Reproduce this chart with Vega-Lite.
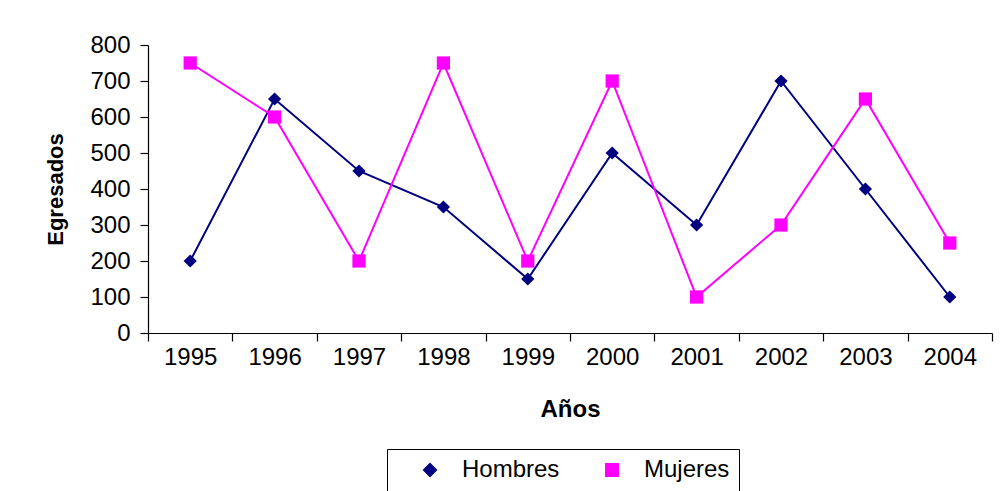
{
  "$schema": "https://vega.github.io/schema/vega-lite/v6.json",
  "autosize": "none",
  "width": 844,
  "height": 288,
  "padding": {"left": 148, "top": 45, "right": 8, "bottom": 158},
  "background": "white",
  "config": {
    "font": "Liberation Sans",
    "view": {"stroke": null},
    "axis": {"grid": false, "domainColor": "#000000", "tickColor": "#000000", "domainWidth": 1.2, "tickWidth": 1.2, "labelColor": "#000000", "titleColor": "#000000", "labelFont": "Liberation Sans", "titleFont": "Liberation Sans"}
  },
  "data": {
    "values": [
      {"year": "1995", "serie": "Hombres", "value": 200},
      {"year": "1996", "serie": "Hombres", "value": 650},
      {"year": "1997", "serie": "Hombres", "value": 450},
      {"year": "1998", "serie": "Hombres", "value": 350},
      {"year": "1999", "serie": "Hombres", "value": 150},
      {"year": "2000", "serie": "Hombres", "value": 500},
      {"year": "2001", "serie": "Hombres", "value": 300},
      {"year": "2002", "serie": "Hombres", "value": 700},
      {"year": "2003", "serie": "Hombres", "value": 400},
      {"year": "2004", "serie": "Hombres", "value": 100},
      {"year": "1995", "serie": "Mujeres", "value": 750},
      {"year": "1996", "serie": "Mujeres", "value": 600},
      {"year": "1997", "serie": "Mujeres", "value": 200},
      {"year": "1998", "serie": "Mujeres", "value": 750},
      {"year": "1999", "serie": "Mujeres", "value": 200},
      {"year": "2000", "serie": "Mujeres", "value": 700},
      {"year": "2001", "serie": "Mujeres", "value": 100},
      {"year": "2002", "serie": "Mujeres", "value": 300},
      {"year": "2003", "serie": "Mujeres", "value": 650},
      {"year": "2004", "serie": "Mujeres", "value": 250}
    ]
  },
  "encoding": {
    "x": {
      "field": "year", "type": "nominal", "bandPosition": 0.5,
      "scale": {"type": "band", "paddingInner": 0, "paddingOuter": 0},
      "axis": {"title": "Años", "labelAngle": 0, "tickBand": "extent", "tickSize": 8, "labelFontSize": 24, "labelPadding": 4, "titleFontSize": 24, "titleFontWeight": "bold", "titlePadding": 28}
    },
    "y": {
      "field": "value", "type": "quantitative",
      "scale": {"domain": [0, 800], "nice": false},
      "axis": {"title": "Egresados", "values": [0, 100, 200, 300, 400, 500, 600, 700, 800], "tickSize": 8, "labelFontSize": 24, "labelPadding": 10, "titleFontSize": 22, "titleFontWeight": "bold", "titlePadding": 22}
    }
  },
  "layer": [
    {
      "mark": {"type": "line", "strokeWidth": 2},
      "encoding": {
        "color": {
          "field": "serie", "type": "nominal",
          "scale": {"domain": ["Hombres", "Mujeres"], "range": ["#000080", "#FF00FF"]},
          "legend": {
            "title": null, "orient": "none", "legendX": 239, "legendY": 404, "direction": "horizontal",
            "strokeColor": "#000000", "fillColor": "white", "padding": 9,
            "labelFontSize": 24, "labelColor": "#000000", "symbolSize": 144, "symbolStrokeWidth": 2,
            "symbolOffset": 22, "labelOffset": 20, "columnPadding": 18,
            "symbolType": {"expr": "datum.value === 'Hombres' ? 'M-4.8,0L4.8,0M0,-0.95L0.95,0L0,0.95L-0.95,0ZM0,-0.65L0.65,0L0,0.65L-0.65,0ZM0,-0.35L0.35,0L0,0.35L-0.35,0Z' : 'M-4.8,0L4.8,0M-0.85,-0.85L0.85,-0.85L0.85,0.85L-0.85,0.85ZM-0.55,-0.55L0.55,-0.55L0.55,0.55L-0.55,0.55ZM-0.25,-0.25L0.25,-0.25L0.25,0.25L-0.25,0.25Z'"}
          }
        }
      }
    },
    {
      "mark": {"type": "point", "filled": true, "size": 175, "opacity": 1},
      "encoding": {
        "fill": {"field": "serie", "type": "nominal", "scale": {"domain": ["Hombres", "Mujeres"], "range": ["#000080", "#FF00FF"]}, "legend": null},
        "shape": {"field": "serie", "type": "nominal", "scale": {"domain": ["Hombres", "Mujeres"], "range": ["diamond", "square"]}, "legend": null}
      }
    }
  ]
}
